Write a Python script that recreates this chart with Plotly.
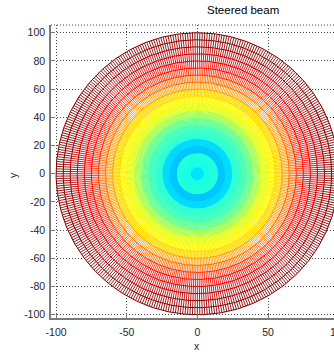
import numpy as np
import plotly.graph_objects as go

# Polar mesh: circle radii and the normalised surface value on each circle
ring_radius = [0, 5, 10, 15, 20, 25, 30, 35, 40, 45, 50,
               55, 60, 65, 70, 75, 80, 85, 90, 95, 100]
ring_value = [0.35, 0.40, 0.41, 0.32, 0.34, 0.42, 0.44, 0.48, 0.54, 0.60, 0.63,
              0.66, 0.72, 0.77, 0.83, 0.87, 0.91, 0.94, 0.97, 0.99, 1.00]
n_spokes = 360

x_ticks = [-100, -50, 0, 50]
y_ticks = [-100, -80, -60, -40, -20, 0, 20, 40, 60, 80, 100]

X_RANGE = [-103.6, 96.7]
Y_RANGE = [-102.3, 105.5]

AXIS_GREY = "#7a7a7a"
GRID_GREY = "#444444"
TEXT = "#262626"
FONT = "Liberation Sans, Arial, sans-serif"


def jet(v):
    """MATLAB-style jet colormap, v in [0, 1]."""
    v = min(max(v, 0.0), 1.0)
    r = min(max(min(4 * v - 1.5, -4 * v + 4.5), 0.0), 1.0)
    g = min(max(min(4 * v - 0.5, -4 * v + 3.5), 0.0), 1.0)
    b = min(max(min(4 * v + 0.5, -4 * v + 2.5), 0.0), 1.0)
    return f"rgb({round(r * 255)},{round(g * 255)},{round(b * 255)})"


fig = go.Figure()

# opaque white faces of the mesh
t_full = np.linspace(0, 2 * np.pi, 721)
R = ring_radius[-1]
fig.add_trace(go.Scatter(x=R * np.cos(t_full), y=R * np.sin(t_full), mode="lines",
                         fill="toself", fillcolor="white", line=dict(width=0),
                         hoverinfo="skip", showlegend=False))

# radial edges, one trace per ring interval (flat colour from the inner vertex)
angles = np.deg2rad(np.arange(n_spokes) * 360.0 / n_spokes)
for k in range(len(ring_radius) - 1):
    r0, r1 = ring_radius[k], ring_radius[k + 1]
    xs, ys = [], []
    for a in angles:
        c, s = np.cos(a), np.sin(a)
        xs += [r0 * c, r1 * c, None]
        ys += [r0 * s, r1 * s, None]
    w = 1.2 if r0 < 60 else 0.9
    fig.add_trace(go.Scatter(x=xs, y=ys, mode="lines",
                             line=dict(color=jet(ring_value[k]), width=w),
                             hoverinfo="skip", showlegend=False))

# circular edges
t_circ = np.linspace(0, 2 * np.pi, 361)
for r, v in zip(ring_radius[1:], ring_value[1:]):
    fig.add_trace(go.Scatter(x=r * np.cos(t_circ), y=r * np.sin(t_circ), mode="lines",
                             line=dict(color=jet(v), width=1),
                             hoverinfo="skip", showlegend=False))

axis_common = dict(
    showline=True, linecolor=AXIS_GREY, linewidth=1.5,
    ticks="inside", ticklen=4, tickcolor=AXIS_GREY, tickwidth=1,
    showgrid=True, gridcolor=GRID_GREY, griddash="1px,2px", gridwidth=1,
    zeroline=False, mirror=False,
    tickfont=dict(family=FONT, size=10.5, color=TEXT),
    fixedrange=True,
)

fig.update_layout(
    width=334, height=352,
    margin=dict(l=51, r=0, t=25, b=34),
    paper_bgcolor="white", plot_bgcolor="white",
    xaxis=dict(range=X_RANGE, tickvals=x_ticks, ticktext=[str(v) for v in x_ticks],
               ticklabelstandoff=4, **axis_common),
    yaxis=dict(range=Y_RANGE, tickvals=y_ticks, ticktext=[str(v) for v in y_ticks],
               ticklabelstandoff=2, **axis_common),
    shapes=[dict(type="line", xref="paper", yref="paper", x0=0, x1=1, y0=1, y1=1,
                 line=dict(color=GRID_GREY, width=1, dash="1px,2px"), layer="below")],
    annotations=[
        dict(text="Steered beam", xref="paper", yref="paper", x=0.678, y=1.051,
             xanchor="center", yanchor="middle", showarrow=False,
             font=dict(family=FONT, size=11.5, color="black")),
        dict(text="x", xref="paper", yref="paper", x=(197 - 51) / 283, y=(318 - 346) / 293,
             xanchor="center", yanchor="middle", showarrow=False,
             font=dict(family=FONT, size=10.5, color=TEXT)),
        dict(text="y", xref="paper", yref="paper", x=(13 - 51) / 283, y=(318 - 175) / 293,
             xanchor="center", yanchor="middle", showarrow=False, textangle=-90,
             font=dict(family=FONT, size=10.5, color=TEXT)),
        dict(text="100", xref="paper", yref="paper", x=(339.4 - 51) / 283, y=(318 - 331.5) / 293,
             xanchor="center", yanchor="middle", showarrow=False,
             font=dict(family=FONT, size=10.5, color=TEXT)),
    ],
)

fig.write_html("out.html")
